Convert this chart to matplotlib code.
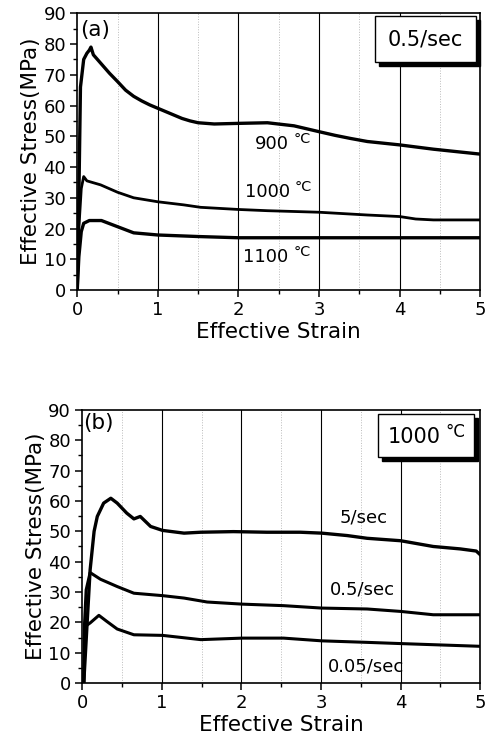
import matplotlib
matplotlib.use("Agg")
import matplotlib.pyplot as plt
from matplotlib.patches import Rectangle
from matplotlib.ticker import MultipleLocator

plt.rcParams['font.family'] = ['DejaVu Sans']

# (a) 0.5/sec, different temperatures
strain_900 = [0, 0.02, 0.04, 0.08, 0.12, 0.15, 0.17, 0.2, 0.3, 0.4, 0.5, 0.6, 0.7, 0.8, 0.9,
              1.0, 1.1, 1.2, 1.3, 1.4, 1.5, 1.7, 2.0, 2.36, 2.69, 3.0, 3.2, 3.39, 3.6, 4.0,
              4.42, 5.0]
stress_900 = [0, 30, 66, 75, 77, 78, 79, 76.5, 73.5, 70.5, 67.8, 65.0, 63.0, 61.5, 60.2,
              59.1, 58.0, 56.9, 55.8, 55.0, 54.4, 54.0, 54.2, 54.4, 53.4, 51.5, 50.3, 49.3,
              48.3, 47.2, 45.8, 44.2]
strain_1000 = [0, 0.02, 0.05, 0.08, 0.12, 0.29, 0.5, 0.7, 1.0, 1.32, 1.53, 2.0, 2.36, 3.0,
               3.6, 4.0, 4.2, 4.42, 5.0]
stress_1000 = [0, 20, 33, 36.9, 35.5, 34.2, 31.8, 30.0, 28.7, 27.7, 26.9, 26.2, 25.8, 25.3,
               24.4, 23.9, 23.1, 22.8, 22.8]
strain_1100 = [0, 0.02, 0.05, 0.08, 0.15, 0.3, 0.5, 0.7, 1.0, 1.5, 2.0, 3.0, 4.0, 5.0]
stress_1100 = [0, 10.8, 19, 21.7, 22.6, 22.6, 20.6, 18.6, 17.9, 17.4, 17.0, 17.0, 17.0, 17.0]

# (b) 1000 C, different strain rates
strain_5 = [0.02, 0.1, 0.15, 0.19, 0.27, 0.36, 0.44, 0.56, 0.65, 0.73, 0.86, 1.01, 1.28, 1.49,
            1.9, 2.32, 2.74, 3.01, 3.33, 3.58, 4.0, 4.41, 4.75, 4.95, 5.0]
stress_5 = [0, 37.3, 50, 54.9, 59.3, 60.9, 59.3, 56.0, 54.1, 54.9, 51.6, 50.3, 49.4, 49.7,
            49.9, 49.7, 49.7, 49.4, 48.6, 47.7, 46.9, 45.0, 44.2, 43.5, 42.3]
strain_05 = [0.02, 0.03, 0.05, 0.1, 0.23, 0.44, 0.65, 1.01, 1.28, 1.57, 2.01, 2.53, 3.01,
             3.58, 4.0, 4.41, 5.0]
stress_05 = [0, 19.8, 30.7, 36.4, 34.2, 31.8, 29.6, 28.8, 28.0, 26.7, 26.0, 25.5, 24.7,
             24.4, 23.6, 22.5, 22.5]
strain_005 = [0.02, 0.04, 0.1, 0.21, 0.31, 0.44, 0.65, 1.01, 1.49, 2.01, 2.53, 3.01, 3.58, 4.0, 5.0]
stress_005 = [0, 18.7, 19.8, 22.3, 20.3, 17.8, 15.9, 15.7, 14.3, 14.8, 14.8, 13.9, 13.4, 13.0, 12.1]

fig = plt.figure(figsize=(4.92, 7.38), dpi=100)
ax1 = fig.add_axes([0.157, 0.607, 0.819, 0.375])
ax2 = fig.add_axes([0.167, 0.0745, 0.809, 0.37])


def estilo(ax):
    ax.set_xlim(0, 5)
    ax.set_ylim(0, 90)
    ax.xaxis.set_major_locator(MultipleLocator(1))
    ax.xaxis.set_minor_locator(MultipleLocator(0.5))
    ax.yaxis.set_major_locator(MultipleLocator(10))
    ax.yaxis.set_minor_locator(MultipleLocator(5))
    ax.tick_params(which='major', direction='out', length=5, width=1.1, labelsize=13, pad=3)
    ax.tick_params(which='minor', direction='out', length=3, width=1)
    for s in ax.spines.values():
        s.set_linewidth(1.2)
    for xv in [1, 2, 3, 4]:
        ax.axvline(xv, color='black', linewidth=0.8, zorder=1)
    for xv in [0.5, 1.5, 2.5, 3.5, 4.5]:
        ax.axvline(xv, color='#bbbbbb', linewidth=0.7, linestyle=':', zorder=1)
    ax.set_xlabel('Effective Strain', fontsize=15.5, labelpad=2)
    ax.set_ylabel('Effective Stress(MPa)', fontsize=15.5, labelpad=2)


def grados(ax, x, y, numero, size=13, transform=None, z=4):
    # numero + "°C" elevado, como en la figura original
    tr = transform if transform is not None else ax.transData
    ax.annotate(numero, xy=(x, y), xycoords=tr, ha='right', va='center', fontsize=size, zorder=z)
    ax.annotate('°C', xy=(x, y), xycoords=tr, xytext=(3.5, 4), textcoords='offset points',
                ha='left', va='center', fontsize=size * 0.8, zorder=z)


def caja(ax, x0, y0, x1, y1):
    ax.add_patch(Rectangle((x0 + 0.01, y0 - 0.015), x1 - x0, y1 - y0, transform=ax.transAxes,
                           facecolor='black', edgecolor='black', zorder=5, clip_on=False))
    ax.add_patch(Rectangle((x0, y0), x1 - x0, y1 - y0, transform=ax.transAxes,
                           facecolor='white', edgecolor='black', linewidth=1.0, zorder=6, clip_on=False))


estilo(ax1)
ax1.plot(strain_900, stress_900, color='black', linewidth=2.4, zorder=3)
ax1.plot(strain_1000, stress_1000, color='black', linewidth=2.0, zorder=3)
ax1.plot(strain_1100, stress_1100, color='black', linewidth=2.4, zorder=3)
ax1.text(0.22, 84.5, '(a)', fontsize=15.5, ha='center', va='center')
grados(ax1, 2.62, 47.4, '900')
grados(ax1, 2.64, 31.8, '1000')
grados(ax1, 2.62, 10.7, '1100')
caja(ax1, 0.739, 0.823, 0.990, 0.990)
ax1.text(0.8645, 0.9065, '0.5/sec', transform=ax1.transAxes, ha='center', va='center',
         fontsize=15, zorder=7)

estilo(ax2)
ax2.plot(strain_5, stress_5, color='black', linewidth=2.4, zorder=3)
ax2.plot(strain_05, stress_05, color='black', linewidth=2.2, zorder=3)
ax2.plot(strain_005, stress_005, color='black', linewidth=2.2, zorder=3)
ax2.text(0.2, 85.7, '(b)', fontsize=15.5, ha='center', va='center')
ax2.text(3.54, 54.4, '5/sec', fontsize=13, ha='center', va='center')
ax2.text(3.52, 30.7, '0.5/sec', fontsize=13, ha='center', va='center')
ax2.text(3.56, 5.6, '0.05/sec', fontsize=13, ha='center', va='center')
caja(ax2, 0.744, 0.828, 0.985, 0.987)
grados(ax2, 0.9, 0.9, '1000', size=15, transform=ax2.transAxes, z=7)

fig.savefig('out.png', dpi=100)
